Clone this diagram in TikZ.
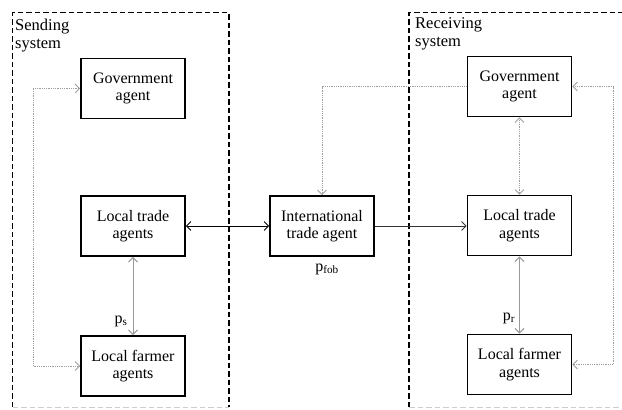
\documentclass[tikz,border=0pt]{standalone}
\usepackage{fontspec}
\setmainfont{Liberation Serif}
\usetikzlibrary{arrows.meta}
\begin{document}
\begin{tikzpicture}[x=1pt,y=-1pt,
  agent/.style={draw, line width=1.8pt, minimum width=104pt, minimum height=60pt, align=center, inner sep=0pt, font=\fontsize{16}{17.5}\selectfont},
  lbl/.style={inner sep=0pt, align=left, anchor=north west, font=\fontsize{16.5}{18}\selectfont},
  plbl/.style={inner sep=0pt, font=\fontsize{16}{17}\selectfont},
  sysbox/.style={line width=1.5pt, dash pattern=on 5.5pt off 3pt},
  tipend/.style={-{Straight Barb[length=4.5pt,width=9pt]}},
  tipboth/.style={{Straight Barb[length=4.5pt,width=9pt]}-{Straight Barb[length=4.5pt,width=9pt]}},
  solidconn/.style={line width=0.8pt, black},
  grayconn/.style={line width=1pt, gray!80},
  dotconn/.style={line width=0.8pt, gray!75, dash pattern=on 1pt off 0.8pt}
]
\useasboundingbox (0,0) rectangle (622,410);
% system boxes
\begin{scope}
\clip (0,0) rectangle (622,410);
\draw[sysbox] (12.7,407) -- (12.7,12.7) -- (229,12.7) -- (229,407);
\draw[sysbox, gray!40, line width=0.8pt] (12.7,407) -- (229,407);
\draw[sysbox] (409,407) -- (409,12.7) -- (640,12.7);
\draw[sysbox, gray!40, line width=0.8pt] (409,407) -- (640,407);
\end{scope}
\node[lbl] (sl) at (15,19) {Sending\\system};
\node[lbl] (rl) at (415,17) {Receiving\\system};
% agents
\node[agent] (lg) at (133,88.5) {Government\\agent};
\node[agent] (lt) at (133,226) {Local trade\\agents};
\node[agent] (lf) at (133,366) {Local farmer\\agents};
\node[agent] (it) at (322,226) {International\\trade agent};
\node[agent] (rg) at (519.5,86.5) {Government\\agent};
\node[agent] (rt) at (519.5,225.5) {Local trade\\agents};
\node[agent] (rf) at (519.5,364.5) {Local farmer\\agents};
% price labels
\node[plbl] (ps) at (121,321) {p\textsubscript{s}};
\node[plbl] (pf) at (327,269) {p\textsubscript{fob}};
\node[plbl] (pr) at (509,318) {p\textsubscript{r}};
% connectors
\draw[solidconn, tipboth] (lt.east) -- (it.west);
\draw[solidconn, tipend, black!80] (it.east) -- (rt.west |- it.east);
\draw[grayconn, tipboth] (lt.south) -- (lf.north);
\draw[grayconn, tipboth] (rt.south) -- (rf.north);
\draw[dotconn, tipboth] (lg.west) -- ++(-47,0) |- (lf.west);
\draw[dotconn, tipboth] (rg.east) -- ++(41,0) |- (rf.east);
\draw[dotconn, tipboth] (rg.south) -- (rt.north);
\draw[dotconn, tipend] (rg.west) -| (it.north);
\end{tikzpicture}
\end{document}
